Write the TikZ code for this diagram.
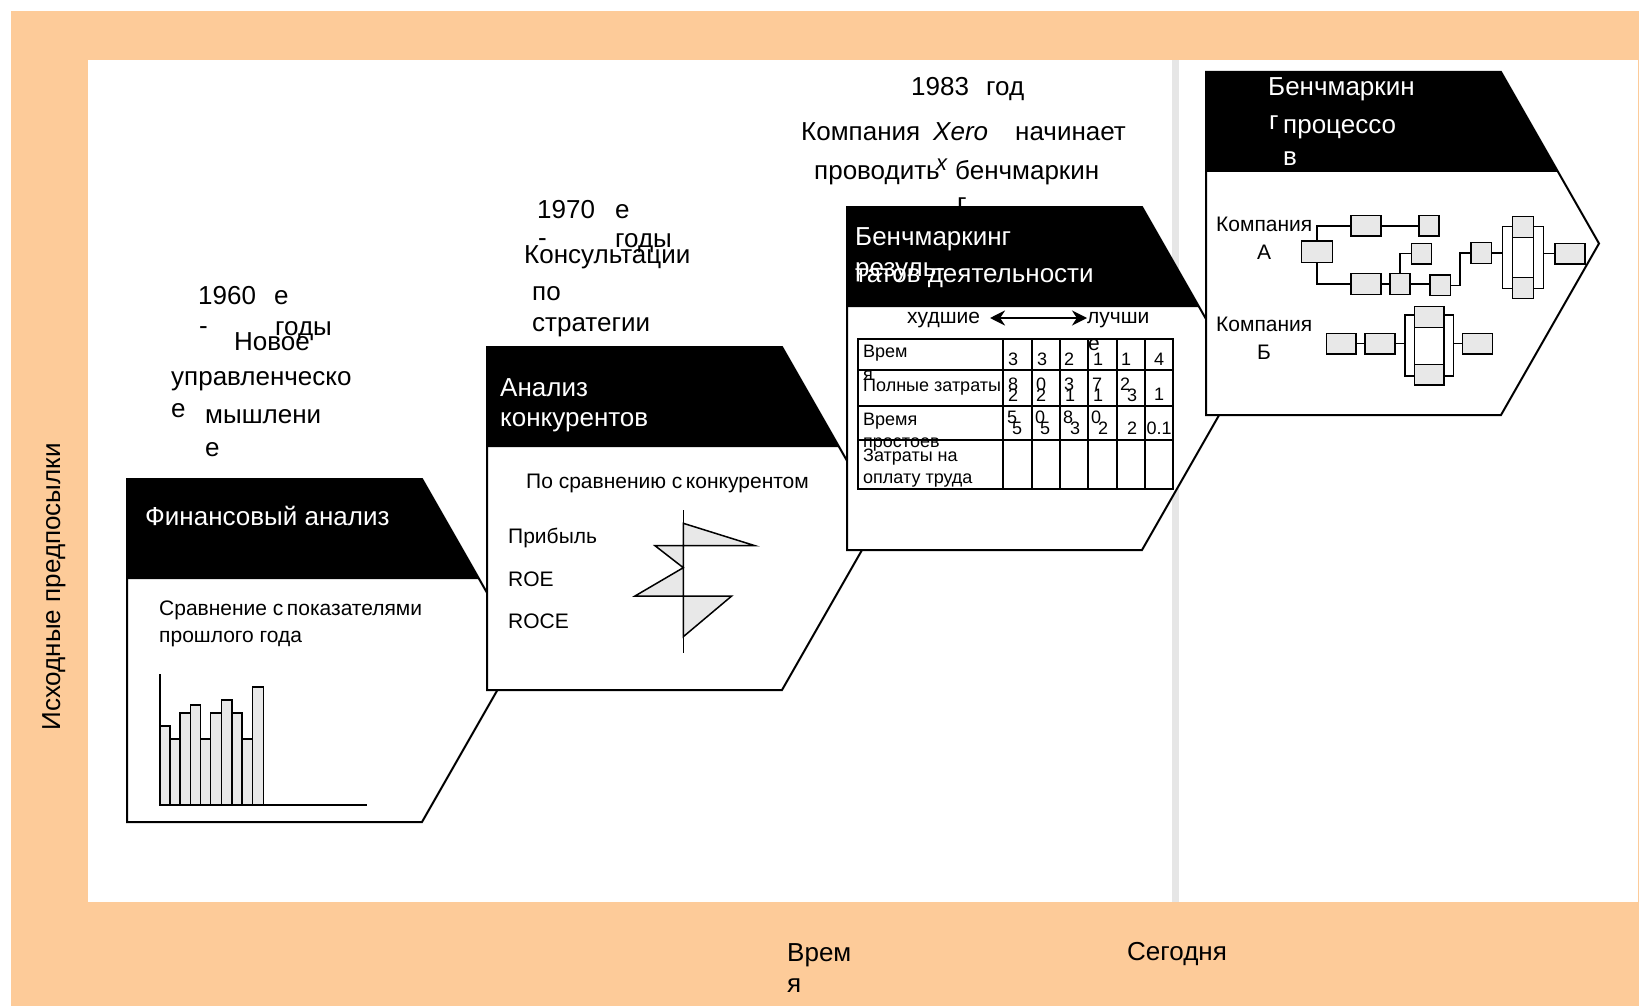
\documentclass[tikz,border=0pt]{standalone}
\usepackage{fontspec}
\setmainfont{Liberation Sans}
\usetikzlibrary{arrows.meta}
\definecolor{peach}{RGB}{253,203,153}
\definecolor{lgray}{RGB}{232,232,232}
\definecolor{sepgray}{RGB}{230,230,230}
\newcommand\hexblock[2]{%
  \fill[white] (#1,#2) -- ({#1+295},#2) -- ({#1+393},{#2+171.5}) -- ({#1+295},{#2+343}) -- (#1,{#2+343}) -- cycle;
  \fill[black] (#1,#2) -- ({#1+295},#2) -- ({#1+352.1},{#2+100}) -- (#1,{#2+100}) -- cycle;
  \draw[hexa] (#1,#2) -- ({#1+295},#2) -- ({#1+393},{#2+171.5}) -- ({#1+295},{#2+343}) -- (#1,{#2+343}) -- cycle;
}
\begin{document}
\begin{tikzpicture}[x=1pt,y=-1pt,
  tl/.style={anchor=base west,inner sep=0pt,font=\fontsize{26}{30}\selectfont},
  hd/.style={tl,text=white},
  bd/.style={anchor=base west,inner sep=0pt,font=\fontsize{21}{25}\selectfont},
  tb/.style={anchor=base west,inner sep=0pt,font=\fontsize{18}{21}\selectfont},
  dg/.style={anchor=center,inner sep=0pt,font=\fontsize{18}{21}\selectfont},
  hexa/.style={draw=black,line width=2pt,line join=miter},
  pbox/.style={draw=black,fill=lgray,line width=1.5pt,inner sep=0pt,rectangle},
  wbox/.style={draw=black,fill=white,line width=1.5pt,inner sep=0pt,rectangle},
  conn/.style={draw=black,line width=1.5pt},
  bar/.style={draw=black,fill=lgray,line width=1.5pt},
  tline/.style={draw=black,line width=2pt},
]
\useasboundingbox (0,0) rectangle (1639,1006);
% background
\fill[white] (0,0) rectangle (1639,1006);
\fill[peach] (11,11) rectangle (1639,1006);
\fill[white] (88,60) rectangle (1638,902);
\fill[sepgray] (1172,60) rectangle (1179,902);

% timeline texts
\node[tl] (y83) at (911,96) {1983};
\node[tl] (y83b) at (986,96) {год};
\node[tl] (x1) at (801,141) {Компания};
\node[tl] (x2) at (933,141) {\textit{Xero}};
\node[tl] (x3) at (1015,141) {начинает};
\node[tl] (x4) at (814,179) {проводить};
\node[anchor=base west,inner sep=0pt,font=\fontsize{22}{26}\selectfont\itshape] (x5) at (936,171) {x};
\node[tl] (x6) at (955,179) {бенчмаркин};
\node[tl] (x7) at (957,211.5) {г};

\node[tl] (s1) at (537,218) {1970};
\node[tl] (s2) at (615,218) {е};
\node[tl] (s3) at (538,246) {-};
\node[tl] (s4) at (615,247) {годы};
\node[tl] (s5) at (524,263) {Консультации};
\node[tl] (s6) at (532,300) {по};
\node[tl] (s7) at (532,331) {стратегии};

\node[tl] (r1) at (198,304) {1960};
\node[tl] (r2) at (274,304) {е};
\node[tl] (r3) at (199,334) {-};
\node[tl] (r4) at (275,335) {годы};
\node[tl] (r5) at (234,350) {Новое};
\node[tl] (r6) at (171,385) {управленческо};
\node[tl] (r7) at (171,417) {е};
\node[tl] (r8) at (205,423) {мышлени};
\node[tl] (r9) at (205,456) {е};

% ---------- block 1
\hexblock{127}{479}
\node[hd] (h1) at (145,525) {Финансовый анализ};
\node[bd] (b1a) at (159,615.5) {Сравнение с\,показателями};
\node[bd] (b1b) at (159,642.5) {прошлого года};
\foreach \xa/\xb/\yt in {160/170/726,170/180/739,180/190.7/713,190.7/200.7/705,200.7/210.7/739,210.7/221.3/713,221.3/232/700,232/242/713,242/252.7/739,252.7/263.3/687}
  \draw[bar] (\xa,\yt) rectangle (\xb,805);
\draw[line width=1.5pt] (160,674) -- (160,805) -- (367,805);

% ---------- block 2
\hexblock{487}{347}
\node[hd] (h2a) at (500,396) {Анализ};
\node[hd] (h2b) at (500,426) {конкурентов};
\node[bd] (b2a) at (526,488.5) {По сравнению с\,конкурентом};
\node[bd] (b2b) at (508,543.5) {Прибыль};
\node[bd] (b2c) at (508,586.5) {ROE};
\node[bd] (b2d) at (508,628.5) {ROCE};
\filldraw[fill=lgray,draw=black,line width=1.5pt,line join=miter] (683.3,523.3) -- (755,545.7) -- (655,545.7) -- (683.3,567.7) -- (635,596) -- (731.7,596) -- (683.3,636.7) -- cycle;
\draw[line width=1.5pt] (683.3,510) -- (683.3,653);

% ---------- block 3
\hexblock{847}{207}
\node[hd] (h3a) at (855,245) {Бенчмаркинг};
\node[hd] (h3b) at (855,276) {резуль-};
\node[hd] (h3c) at (855,282) {татов деятельности};
\node[bd] (w1) at (907,323.5) {худшие};
\node[bd] (w2) at (1087,323.5) {лучши};
\coordinate (arl) at (990,318);
\coordinate (arr) at (1087,318);
\draw[line width=2.2pt,{Stealth[length=15pt,width=15pt]}-{Stealth[length=15pt,width=15pt]}] (arl) -- (arr);
% table
\draw[tline] (858.3,339) rectangle (1173.3,489.3);
\foreach \yy in {370,405.6,440} \draw[tline] (858.3,\yy) -- (1173.3,\yy);
\foreach \xx in {1003.3,1031.7,1060,1088.3,1116.7,1145} \draw[tline] (\xx,339) -- (\xx,489.3);
\node[bd] (w3) at (1088,350) {е};
\node[tb] (c1) at (863,357) {Врем};
\node[tb] (c2) at (863,380) {я};
\node[tb] (c3) at (863,391) {Полные затраты};
\node[tb] (c4) at (863,425) {Время};
\node[tb] (c5) at (863,447) {простоев};
\node[tb] (c6) at (863,461) {Затраты на};
\node[tb] (c7) at (863,483) {оплату труда};
% row 1 digits
\node[dg] (d11) at (1013,359.6) {3};
\node[dg] (d12) at (1042,359.6) {3};
\node[dg] (d13) at (1069,359.6) {2};
\node[dg] (d14) at (1098,359.6) {1};
\node[dg] (d15) at (1126,359.6) {1};
\node[dg] (d16) at (1159,359.6) {4};
% row 2 digits
\node[dg] (d21) at (1013,384.7) {8};
\node[dg] (d21b) at (1013,395) {2};
\node[dg] (d22) at (1041,384.7) {0};
\node[dg] (d22b) at (1041,395) {2};
\node[dg] (d23) at (1069,384.7) {3};
\node[dg] (d23b) at (1070,395) {1};
\node[dg] (d24) at (1097,384.7) {7};
\node[dg] (d24b) at (1098,395) {1};
\node[dg] (d25) at (1125,384.7) {2};
\node[dg] (d25b) at (1132,395) {3};
\node[dg] (d26) at (1159,394) {1};
% row 3 digits
\node[dg] (d31) at (1012,417) {5};
\node[dg] (d31b) at (1017,428.6) {5};
\node[dg] (d32) at (1040,417) {0};
\node[dg] (d32b) at (1045,428.6) {5};
\node[dg] (d33) at (1068,417) {8};
\node[dg] (d33b) at (1075,428.6) {3};
\node[dg] (d34) at (1096,417) {0};
\node[dg] (d34b) at (1103,428.6) {2};
\node[dg] (d35) at (1132,428.6) {2};
\node[dg] (d36) at (1159,428.6) {0.1};

% ---------- block 4
\hexblock{1206}{72}
\node[hd] (h4a) at (1268,96) {Бенчмаркин};
\node[hd] (h4b) at (1269,130) {г};
\node[hd] (h4c) at (1283,134) {процессо};
\node[hd] (h4d) at (1283,165) {в};
\node[bd] (ka) at (1216,231) {Компания};
\node[bd] (kaa) at (1257,259.5) {А};
\node[bd] (kb) at (1216,331) {Компания};
\node[bd] (kbb) at (1257,359.5) {Б};
% company A process
\node[pbox,minimum width=30.6pt,minimum height=21.3pt] (a0) at (1317,251.7) {};
\node[pbox,minimum width=30pt,minimum height=20.3pt] (a1) at (1366,225.8) {};
\node[pbox,minimum width=20pt,minimum height=20.3pt] (a2) at (1429,225.8) {};
\node[pbox,minimum width=20pt,minimum height=20.7pt] (a3) at (1421.7,253.7) {};
\node[pbox,minimum width=30pt,minimum height=21pt] (a4) at (1366,283.8) {};
\node[pbox,minimum width=20pt,minimum height=21pt] (a5) at (1400,283.8) {};
\node[pbox,minimum width=20.7pt,minimum height=20.7pt] (a6) at (1440.3,285.3) {};
\node[pbox,minimum width=20.7pt,minimum height=20.7pt] (a7) at (1481.3,253) {};
\node[wbox,minimum width=41pt,minimum height=61.6pt] (pa) at (1522.8,257.5) {};
\node[wbox,minimum width=20.6pt,minimum height=81.6pt] (pai) at (1523,257.5) {};
\node[pbox,minimum width=20.6pt,minimum height=20.6pt] (pat) at (1523,227) {};
\node[pbox,minimum width=20.6pt,minimum height=20.6pt] (pab) at (1523,288) {};
\node[pbox,minimum width=30pt,minimum height=20.7pt] (a8) at (1570,253.7) {};
\draw[conn] (a0.north) |- (a1.west);
\draw[conn] (a1.east) -- (a2.west);
\draw[conn] (a0.south) |- (a4.west);
\draw[conn] (a4.east) -- (a5.west);
\draw[conn] (a5.north) |- (a3.west);
\draw[conn] (a5.east) -- (a5.east -| a6.west);
\draw[conn] (a6.east) -| ([xshift=-10pt]a7.west) -- (a7.west);
\draw[conn] (a7.east) -- (a7.east -| pa.west);
\draw[conn] (pa.east |- a8.west) -- (a8.west);
% company B process
\node[pbox,minimum width=29.3pt,minimum height=20.7pt] (b1) at (1341.3,343.7) {};
\node[pbox,minimum width=30pt,minimum height=20.7pt] (b2) at (1380,343.7) {};
\node[wbox,minimum width=48.3pt,minimum height=61pt] (pb) at (1429.2,345.5) {};
\node[wbox,minimum width=29.7pt,minimum height=78.3pt] (pbi) at (1429.2,345.8) {};
\node[pbox,minimum width=29.7pt,minimum height=20.6pt] (pbt) at (1429.2,317) {};
\node[pbox,minimum width=29.7pt,minimum height=20.6pt] (pbb) at (1429.2,374.7) {};
\node[pbox,minimum width=30pt,minimum height=20.7pt] (b3) at (1477.7,343.7) {};
\draw[conn] (b1.east) -- (b2.west);
\draw[conn] (b2.east) -- (b2.east -| pb.west);
\draw[conn] (pb.east |- b3.west) -- (b3.west);

% axis labels
\node[tl] (tv1) at (787,961) {Врем};
\node[tl] (tv2) at (787,992) {я};
\node[tl] (tsg) at (1127,960) {Сегодня};
\node[anchor=center,inner sep=0pt,rotate=90,font=\fontsize{26}{30}\selectfont] (tix) at (54,587) {Исходные предпосылки};
\end{tikzpicture}
\end{document}
